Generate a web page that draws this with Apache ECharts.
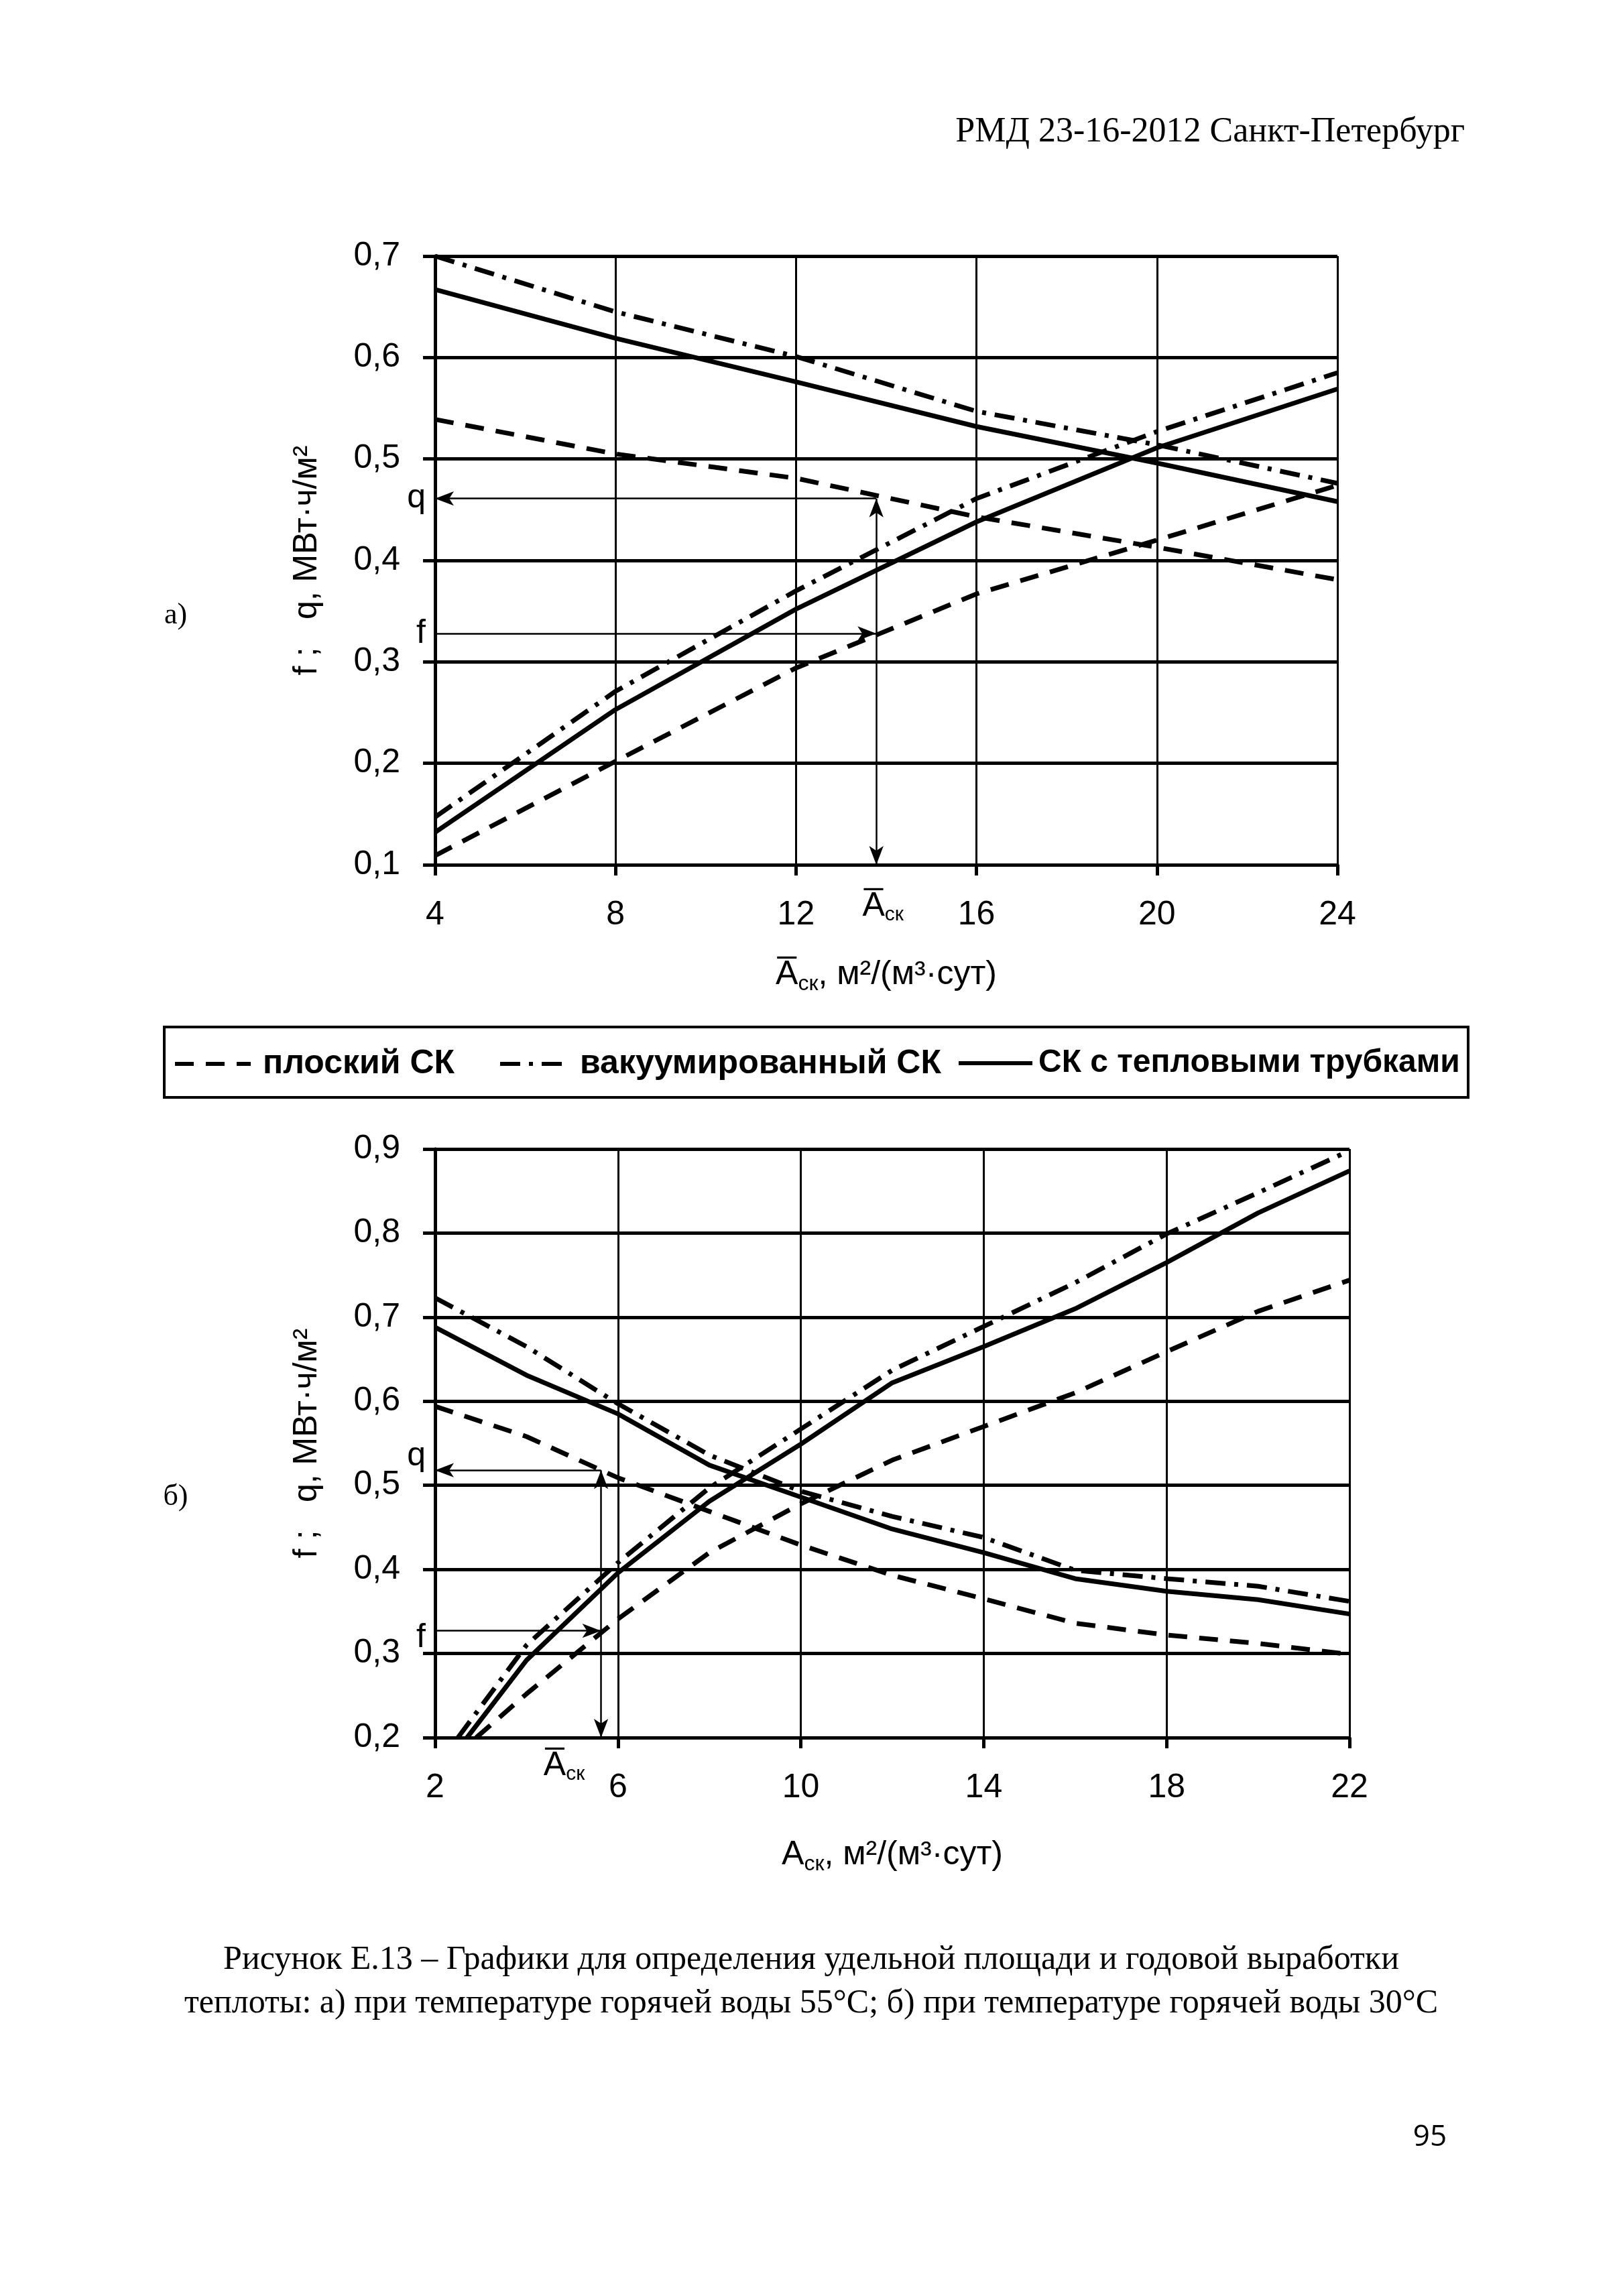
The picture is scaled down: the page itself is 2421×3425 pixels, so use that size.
<!DOCTYPE html>
<html><head><meta charset="utf-8">
<script src="https://cdn.jsdelivr.net/npm/echarts@6/dist/echarts.min.js"></script>
<style>html,body{margin:0;padding:0;background:#fff}#c{width:2421px;height:3425px}</style>
</head><body><div id="c"></div>
<script>
// ---------- data ----------
const seriesNames = ['плоский СК', 'вакуумированный СК', 'СК с тепловыми трубками'];

// chart a) 55°C
const xTicksA = [4, 8, 12, 16, 20, 24];
const xA = [4, 8, 12, 16, 20, 24];
const flatQA = [0.539, 0.505, 0.481, 0.443, 0.413, 0.381];
const flatFA = [0.109, 0.202, 0.294, 0.367, 0.420, 0.474];
const vacQA  = [0.700, 0.645, 0.601, 0.547, 0.514, 0.476];
const vacFA  = [0.147, 0.271, 0.370, 0.461, 0.527, 0.585];
const hpQA   = [0.667, 0.619, 0.576, 0.532, 0.496, 0.458];
const hpFA   = [0.132, 0.253, 0.352, 0.438, 0.511, 0.569];
const arrowA = { x: 13.78, q: 0.461, f: 0.328, xStart: 4, yBottom: 0.1 };

// chart b) 30°C
const xTicksB = [2, 6, 10, 14, 18, 22];
const xBq     = [2, 4, 6, 8, 10, 12, 14, 16, 18, 20, 22];
const flatQB  = [0.594, 0.558, 0.509, 0.469, 0.429, 0.393, 0.365, 0.336, 0.322, 0.312, 0.299];
const vacQB   = [0.723, 0.665, 0.597, 0.536, 0.493, 0.463, 0.438, 0.399, 0.389, 0.380, 0.362];
const hpQB    = [0.688, 0.631, 0.585, 0.524, 0.486, 0.448, 0.420, 0.389, 0.374, 0.364, 0.347];
const xFlatFB = [2.9, 4, 6, 8, 10, 12, 14, 16, 18, 20, 22];
const flatFB  = [0.200, 0.252, 0.341, 0.420, 0.478, 0.530, 0.570, 0.610, 0.659, 0.707, 0.744];
const xVacFB  = [2.5, 4, 6, 8, 10, 12, 14, 16, 18, 20, 22];
const vacFB   = [0.200, 0.310, 0.408, 0.497, 0.567, 0.637, 0.689, 0.741, 0.799, 0.848, 0.898];
const xHpFB   = [2.7, 4, 6, 8, 10, 12, 14, 16, 18, 20, 22];
const hpFB    = [0.200, 0.292, 0.396, 0.481, 0.549, 0.622, 0.665, 0.710, 0.765, 0.824, 0.874];
const arrowB = { x: 5.63, q: 0.518, f: 0.327, xStart: 2, yBottom: 0.2 };

// ---------- styles ----------
const SANS = "'Liberation Sans', Arial, sans-serif";
const SERIF = "'Liberation Serif', 'Times New Roman', serif";
const lineStyles = [
  { color: '#000', width: 7, type: [28, 18] },
  { color: '#000', width: 7, type: [30, 13, 6, 13] },
  { color: '#000', width: 7, type: 'solid' }
];
const pairs = (xs, ys) => xs.map((x, i) => [x, ys[i]]);

function curve(idx, data, gi) {
  return {
    type: 'line', name: seriesNames[idx], xAxisIndex: gi, yAxisIndex: gi,
    data: data, symbol: 'none', showSymbol: false, color: '#000',
    lineStyle: lineStyles[idx], silent: true, z: 3
  };
}

const arrowLine = { color: '#000', width: 2.5, type: 'solid' };
const AS = [16, 28];
// qText / fText: label strings; extra blank lines shift the letter vertically
function arrowMarks(ar, labelPadB, qText, qLH, fText, fLH, aPad) {
  return {
    silent: true, animation: false, symbolSize: AS,
    lineStyle: arrowLine,
    label: { show: false },
    emphasis: { disabled: true },
    data: [
      [ { coord: [ar.xStart, ar.q], symbol: 'arrow', symbolSize: AS,
          label: { show: true, position: 'start', formatter: qText, distance: 14, lineHeight: qLH,
                   fontSize: 50, fontFamily: SANS, color: '#000' } },
        { coord: [ar.x, ar.q], symbol: 'none' } ],
      [ { coord: [ar.xStart, ar.f], symbol: 'none',
          label: { show: true, position: 'start', formatter: fText, distance: 14, lineHeight: fLH,
                   fontSize: 50, fontFamily: SANS, color: '#000' } },
        { coord: [ar.x, ar.f], symbol: 'arrow', symbolSize: AS } ],
      [ { coord: [ar.x, ar.q], symbol: 'arrow', symbolSize: AS,
          label: { show: true, position: 'end', distance: labelPadB,
                   formatter: '{o|A\u0305}{s|ск}', color: '#000', padding: aPad,
                   rich: { o: { fontSize: 50, fontFamily: SANS, lineHeight: 56 },
                           s: { fontSize: 30, fontFamily: SANS, lineHeight: 30, verticalAlign: 'bottom' } } } },
        { coord: [ar.x, ar.yBottom], symbol: 'arrow', symbolSize: AS } ]
    ]
  };
}

function yAxisCfg(gi, min, max) {
  return {
    type: 'value', gridIndex: gi, min: min, max: max, interval: 0.1,
    name: 'f ;   q, МВт·ч/м²', nameLocation: 'middle', nameRotate: 90, nameGap: 166,
    nameTextStyle: { fontSize: 50, fontFamily: SANS, color: '#000' },
    axisLine: { show: true, onZero: false, lineStyle: { color: '#000', width: 5 } },
    axisTick: { show: true, length: 18, lineStyle: { color: '#000', width: 5 } },
    axisLabel: { fontSize: 50, fontFamily: SANS, color: '#000', margin: 52,
                 formatter: v => v.toFixed(1).replace('.', ',') },
    splitLine: { show: true, lineStyle: { color: '#000', width: 5 } }
  };
}
function xAxisCfg(gi, min, max, ticks, name, gap) {
  return {
    type: 'value', gridIndex: gi, min: min, max: max,
    name: name, nameLocation: 'middle', nameGap: gap,
    nameTextStyle: { fontSize: 50, fontFamily: SANS, color: '#000',
      rich: { o: { fontSize: 50, fontFamily: SANS, lineHeight: 60 },
              n: { fontSize: 50, fontFamily: SANS, lineHeight: 60 },
              s: { fontSize: 32, fontFamily: SANS, lineHeight: 36, verticalAlign: 'bottom' } } },
    axisLine: { show: true, onZero: false, lineStyle: { color: '#000', width: 5 } },
    axisTick: { show: true, length: 16, customValues: ticks, lineStyle: { color: '#000', width: 5 } },
    axisLabel: { fontSize: 50, fontFamily: SANS, color: '#000', margin: 50, customValues: ticks },
    splitLine: { show: true, lineStyle: { color: '#000', width: 3 } }
  };
}

const series = [
  curve(0, pairs(xA, flatQA), 0),
  curve(0, pairs(xA, flatFA), 0),
  curve(1, pairs(xA, vacQA), 0),
  curve(1, pairs(xA, vacFA), 0),
  curve(2, pairs(xA, hpQA), 0),
  curve(2, pairs(xA, hpFA), 0),
  curve(0, pairs(xBq, flatQB), 1),
  curve(0, pairs(xFlatFB, flatFB), 1),
  curve(1, pairs(xBq, vacQB), 1),
  curve(1, pairs(xVacFB, vacFB), 1),
  curve(2, pairs(xBq, hpQB), 1),
  curve(2, pairs(xHpFB, hpFB), 1)
];
series[0].markLine = arrowMarks(arrowA, 34, 'q', 56, 'f', 56, [0,0,0,20]);
series[6].markLine = arrowMarks(arrowB, 14, 'q\n ', 42, ' \nf', 22, [0,110,0,0]);

function legendItem(name, left, iconW, textGap, size) {
  return {
    data: [name], left: left, top: 1562, padding: 0, orient: 'horizontal',
    itemWidth: iconW, itemHeight: 52, selectedMode: false,
    lineStyle: { width: 6 },
    itemStyle: { color: 'rgba(0,0,0,0)', borderColor: 'rgba(0,0,0,0)', borderWidth: 0, opacity: 0 },
    textStyle: { fontSize: size, fontWeight: 'bold', color: '#000', fontFamily: SANS,
                 padding: [0, 0, 0, textGap] }
  };
}

function txt(text, x, y, size, family, align, extra) {
  return Object.assign({
    type: 'text', x: x, y: y, silent: true,
    style: { text: text, fontSize: size, fontFamily: family, fill: '#000',
             align: align || 'center', verticalAlign: 'middle',
             textAlign: align || 'center', textVerticalAlign: 'middle' }
  }, extra || {});
}

const option = {
  backgroundColor: '#fff',
  animation: false,
  grid: [
    { left: 649, top: 382, width: 1346, height: 908, outerBoundsMode: 'none', containLabel: false },
    { left: 649, top: 1714, width: 1364, height: 878, outerBoundsMode: 'none', containLabel: false }
  ],
  xAxis: [
    xAxisCfg(0, 4, 24, xTicksA, '{o|A\u0305}{s|ск}{n|, м²/(м³·сут)}', 134),
    xAxisCfg(1, 2, 22, xTicksB, '{n|A}{s|ск}{n|, м²/(м³·сут)}', 145)
  ],
  yAxis: [ yAxisCfg(0, 0.1, 0.7), yAxisCfg(1, 0.2, 0.9) ],
  legend: [
    legendItem(seriesNames[0], 258, 113, 13, 50),
    legendItem(seriesNames[1], 743, 98, 16, 50),
    legendItem(seriesNames[2], 1427, 110, 4, 48)
  ],
  graphic: [
    txt('РМД 23-16-2012 Санкт-Петербург', 2185, 197, 52, SERIF, 'right'),
    txt('а)', 262, 918, 44, SERIF),
    txt('б)', 262, 2233, 44, SERIF),
    { type: 'rect', silent: true, shape: { x: 245, y: 1532, width: 1945, height: 105 },
      style: { fill: 'none', stroke: '#000', lineWidth: 4 } },
    txt('Рисунок Е.13 – Графики для определения удельной площади и годовой выработки', 1210, 2924, 50, SERIF),
    txt('теплоты: а) при температуре горячей воды 55°С; б) при температуре горячей воды 30°С', 1210, 2989, 50, SERIF),
    txt('95', 2133, 3188, 44, "'Open Sans', 'Liberation Sans', sans-serif")
  ],
  series: series
};

const chart = echarts.init(document.getElementById('c'), null, { renderer: 'canvas' });
chart.setOption(option);
</script>
</body></html>
